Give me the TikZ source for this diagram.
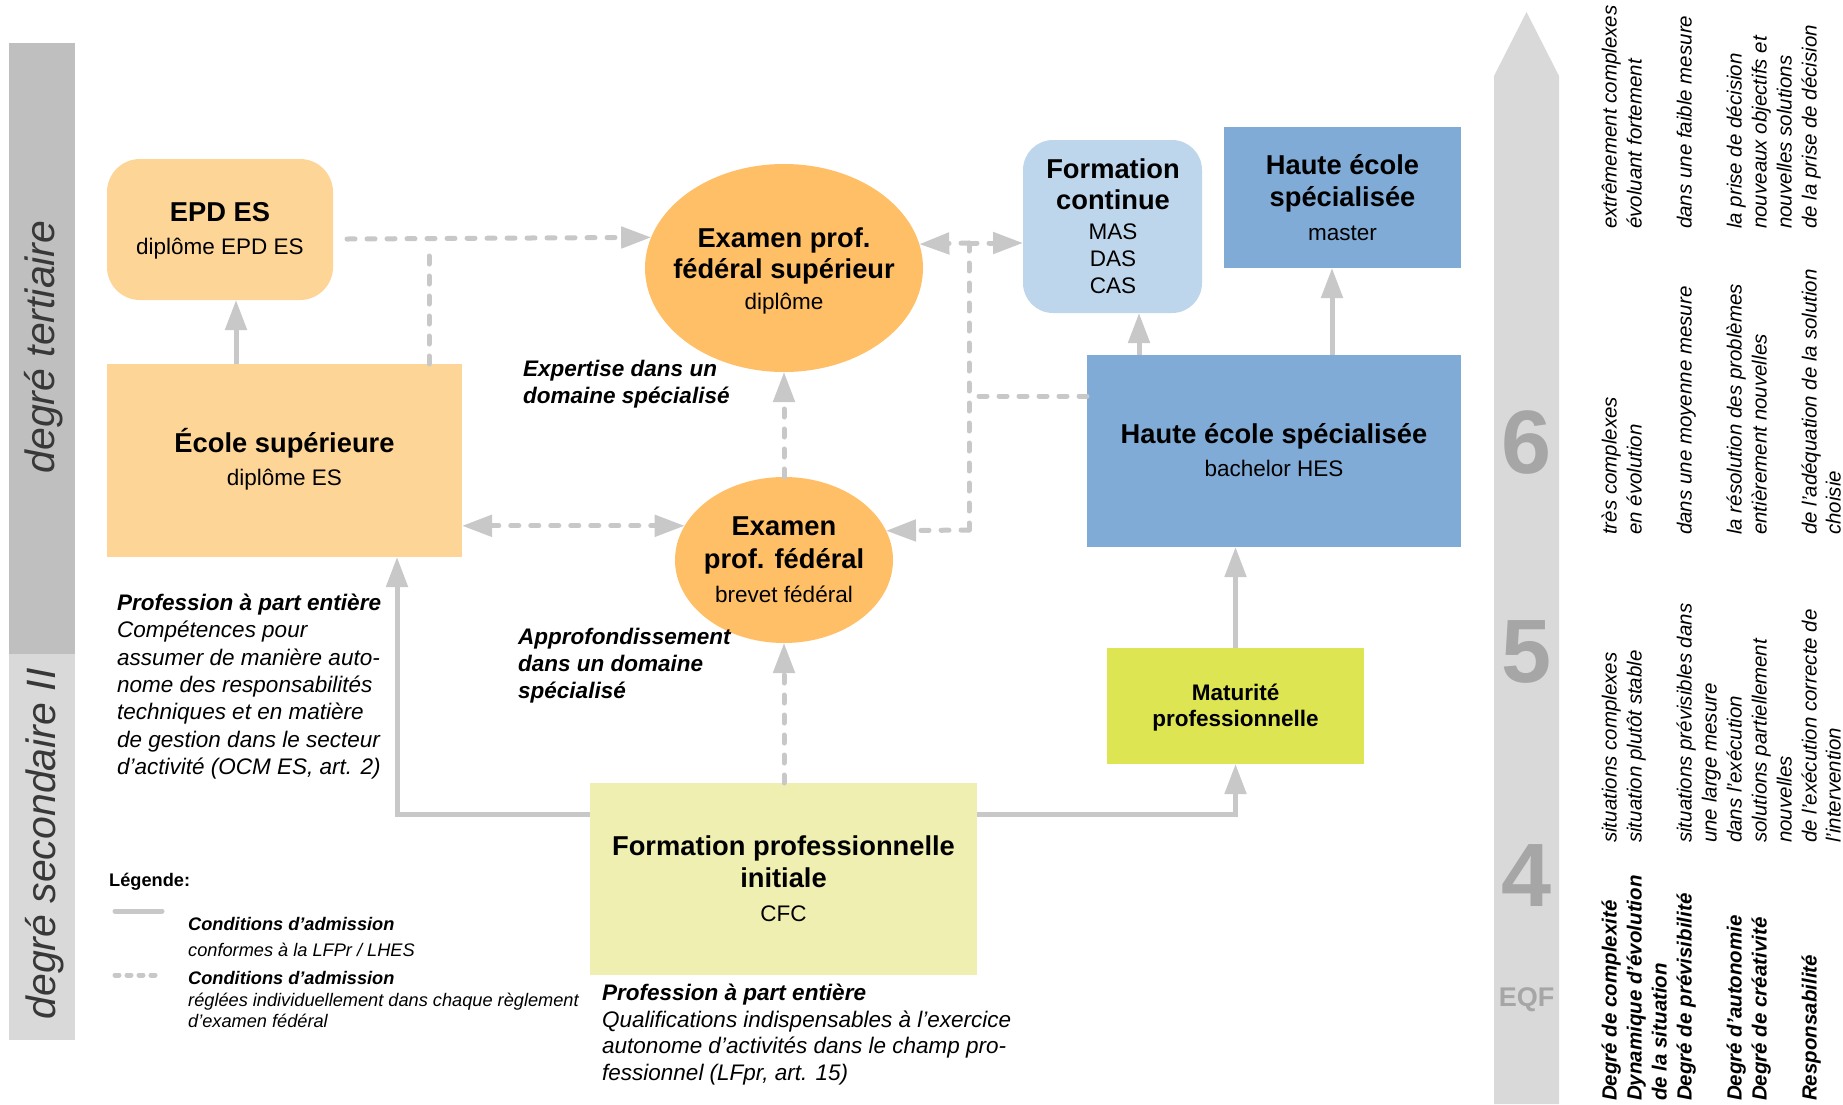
\documentclass[tikz,border=0pt]{standalone}
\usepackage{fontspec}
\setmainfont{Liberation Sans}
\usetikzlibrary{arrows.meta,shapes.geometric}
\definecolor{conn}{HTML}{C8C8C8}
\definecolor{bandD}{HTML}{BFBFBF}
\definecolor{bandL}{HTML}{D9D9D9}
\definecolor{eqfc}{HTML}{D9D9D9}
\definecolor{numc}{HTML}{A6A6A6}
\definecolor{lorange}{HTML}{FDD597}
\definecolor{orng}{HTML}{FFBF66}
\definecolor{lblue}{HTML}{BED6EB}
\definecolor{mblue}{HTML}{80ABD6}
\definecolor{ygreen}{HTML}{DDE553}
\definecolor{lyellow}{HTML}{EFEFB1}
\definecolor{bandtxt}{HTML}{383838}
\tikzset{
  boxs/.style={inner sep=0pt, outer sep=0pt, draw=none},
  ttl/.style={inner sep=0pt, anchor=mid, font=\fontsize{27.3}{32}\selectfont\bfseries},
  sub/.style={inner sep=0pt, anchor=mid, font=\fontsize{22.5}{27}\selectfont},
  matf/.style={inner sep=0pt, anchor=mid, font=\fontsize{22.5}{27}\selectfont\bfseries},
  ann/.style={inner sep=0pt, anchor=mid west, font=\fontsize{22.5}{27}\selectfont\itshape},
  annb/.style={inner sep=0pt, anchor=mid west, font=\fontsize{22.5}{27}\selectfont\bfseries\itshape},
  leg/.style={inner sep=0pt, anchor=mid west, font=\fontsize{18.2}{22}\selectfont\itshape},
  legb/.style={inner sep=0pt, anchor=mid west, font=\fontsize{18.2}{22}\selectfont\bfseries\itshape},
  rot/.style={inner sep=0pt, rotate=90, anchor=mid west, font=\fontsize{20.5}{25}\selectfont\itshape},
  rotb/.style={inner sep=0pt, rotate=90, anchor=mid west, font=\fontsize{20.5}{25}\selectfont\bfseries\itshape},
  bandtext/.style={inner sep=0pt, rotate=90, text=bandtxt, font=\fontsize{41}{41}\selectfont\itshape},
  numtext/.style={inner sep=0pt, text=numc, font=\fontsize{90}{90}\selectfont\bfseries},
  solc/.style={draw=conn, line width=5pt},
  dashc/.style={draw=conn, line width=5pt, line cap=round, dash pattern=on 8pt off 12pt},
  arr/.style={-{Triangle[width=21pt,length=30pt]}},
  darr/.style={{Triangle[width=21pt,length=30pt]}-{Triangle[width=21pt,length=30pt]}},
}
\begin{document}
\begin{tikzpicture}[x=1pt,y=-1pt]
\fill[white] (0,0) rectangle (1843,1104);
\useasboundingbox (0,0) rectangle (1843,1104);

% left bands
\node[boxs, fill=bandD, minimum width=66pt, minimum height=611pt] (bandT) at (42,348.5) {};
\node[boxs, fill=bandL, minimum width=66pt, minimum height=386pt] (bandS) at (42,847) {};
\node[bandtext] (tT) at (44,347) {degré tertiaire};
\node[bandtext] (tS) at (45,844) {degré secondaire II};

% EQF arrow
\fill[eqfc] (1494,1104) -- (1494,76) -- (1526.5,12) -- (1559,76) -- (1559,1104) -- cycle;
\node[numtext] (n6) at (1526.5,443) {6};
\node[numtext] (n5) at (1526.5,652) {5};
\node[numtext] (n4) at (1526.5,876) {4};
\node[inner sep=0pt, text=numc, font=\fontsize{27}{27}\selectfont\bfseries] (eqf) at (1526.5,1000) {EQF};

% boxes
\node[boxs, fill=lorange, rounded corners=33pt, minimum width=226pt, minimum height=141pt] (epd) at (220,229.5) {};
\node[boxs, fill=lorange, minimum width=355pt, minimum height=193pt] (es) at (284.5,460.5) {};
\node[boxs, ellipse, fill=orng, minimum width=278pt, minimum height=208pt] (exs) at (784,268) {};
\node[boxs, ellipse, fill=orng, minimum width=218pt, minimum height=166pt] (exf) at (784,560) {};
\node[boxs, fill=lblue, rounded corners=30pt, minimum width=179pt, minimum height=173pt] (fc) at (1112.5,226.5) {};
\node[boxs, fill=mblue, minimum width=237pt, minimum height=141pt] (hesm) at (1342.5,197.5) {};
\node[boxs, fill=mblue, minimum width=374pt, minimum height=192pt] (hesb) at (1274,451) {};
\node[boxs, fill=ygreen, minimum width=257pt, minimum height=116pt] (mat) at (1235.5,706) {};
\node[boxs, fill=lyellow, minimum width=387pt, minimum height=192pt] (fpi) at (783.5,879) {};

% box texts
\node[ttl] (epdT) at (220,219) {EPD ES};
\node[sub] (epdS) at (220,252) {diplôme EPD ES};
\node[ttl] (esT) at (284.5,450) {École supérieure};
\node[sub] (esS) at (284.5,483) {diplôme ES};
\node[ttl] (exsT1) at (784,245) {Examen prof.};
\node[ttl] (exsT2) at (784,276) {fédéral supérieur};
\node[sub] (exsS) at (784,307) {diplôme};
\node[ttl] (exfT1) at (784,533) {Examen};
\node[ttl] (exfT2) at (784,566) {prof. fédéral};
\node[sub] (exfS) at (784,600) {brevet fédéral};
\node[ttl] (fcT1) at (1113,176) {Formation};
\node[ttl] (fcT2) at (1113,207) {continue};
\node[sub] (fcS1) at (1113,237) {MAS};
\node[sub] (fcS2) at (1113,264) {DAS};
\node[sub] (fcS3) at (1113,291) {CAS};
\node[ttl] (hmT1) at (1342.5,172) {Haute école};
\node[ttl] (hmT2) at (1342.5,204) {spécialisée};
\node[sub] (hmS) at (1342.5,238) {master};
\node[ttl] (hbT) at (1274,441) {Haute école spécialisée};
\node[sub] (hbS) at (1274,474) {bachelor HES};
\node[matf] (matT1) at (1235.5,698) {Maturité};
\node[matf] (matT2) at (1235.5,724) {professionnelle};
\node[ttl] (fpT1) at (783.5,853) {Formation professionnelle};
\node[ttl] (fpT2) at (783.5,885) {initiale};
\node[sub] (fpS) at (783.5,919) {CFC};

% annotations
\node[annb] (a1) at (117,608) {Profession à part entière};
\node[ann] (a2) at (117,635.3) {Compétences pour};
\node[ann] (a3) at (117,662.6) {assumer de manière auto-};
\node[ann] (a4) at (117,689.9) {nome des responsabilités};
\node[ann] (a5) at (117,717.2) {techniques et en matière};
\node[ann] (a6) at (117,744.5) {de gestion dans le secteur};
\node[ann] (a7) at (117,771.8) {d’activité (OCM ES, art. 2)};
\node[annb] (e1) at (523,374) {Expertise dans un};
\node[annb] (e2) at (523,401) {domaine spécialisé};
\node[annb] (p1) at (518,642) {Approfondissement};
\node[annb] (p2) at (518,669) {dans un domaine};
\node[annb] (p3) at (518,696) {spécialisé};
\node[annb] (b1) at (602,998) {Profession à part entière};
\node[ann] (b2) at (602,1024.5) {Qualifications indispensables à l’exercice};
\node[ann] (b3) at (602,1051) {autonome d’activités dans le champ pro-};
\node[ann] (b4) at (602,1077.5) {fessionnel (LFpr, art. 15)};

% legend
\node[inner sep=0pt, anchor=mid west, font=\fontsize{18.2}{22}\selectfont\bfseries] (legT) at (109,884) {Légende:};
\coordinate (ls1) at (115,911);
\coordinate (ls2) at (162,911);
\draw[solc, line cap=round] (ls1) -- (ls2);
\coordinate (ld1) at (115,975);
\coordinate (ld2) at (162,975);
\draw[dashc, dash pattern=on 4pt off 8pt] (ld1) -- (ld2);
\node[legb] (l1) at (188,928) {Conditions d’admission};
\node[leg] (l2) at (188,954) {conformes à la LFPr / LHES};
\node[legb] (l3) at (188,982) {Conditions d’admission};
\node[leg] (l4) at (188,1004) {réglées individuellement dans chaque règlement};
\node[leg] (l5) at (188,1025) {d’examen fédéral};

% connectors
\coordinate (c1) at (236,0);
\draw[solc, arr] (es.north -| c1) -- (epd.south -| c1);
\coordinate (d0) at (347,239);
\coordinate (j1) at (429,239);
\coordinate (j1b) at (429,252);
\draw[dashc, arr] (d0) -- (exs.167.8);
\draw[dashc] (es.north -| j1) -- (j1b);
\draw[dashc, darr] (es.east |- exf.161.7) -- (exf.161.7);
\draw[dashc, arr] (exf.north) -- (exs.south);
\draw[dashc, arr] (exf.south |- fpi.north) -- (exf.south);
\coordinate (j7) at (397,814);
\draw[solc, arr] (fpi.west |- j7) -- (j7) -- (es.south -| j7);
\coordinate (j8) at (1235.5,814);
\draw[solc, arr] (fpi.east |- j8) -- (j8) -- (mat.south);
\draw[solc, arr] (mat.north) -- (mat.north |- hesb.south);
\coordinate (c10) at (1332,0);
\draw[solc, arr] (hesb.north -| c10) -- (hesm.south -| c10);
\coordinate (c11) at (1139,0);
\draw[solc, arr] (hesb.north -| c11) -- (fc.south -| c11);
\coordinate (jt) at (969,243);
\coordinate (jm) at (969,396);
\coordinate (jb) at (969,530);
\draw[dashc] (hesb.west |- jm) -- (jm);
\draw[dashc] (jt) -- (jb);
\draw[dashc, arr] (jt) -- (exs.10.5);
\draw[dashc, arr] (jt) -- (fc.west |- jt);
\draw[dashc, arr] (jb) -- (exf.16.5);

% right columns, group 1
\node[rot] (g1a) at (1614,229) {extrêmement complexes};
\node[rot] (g1b) at (1639,229) {évoluant fortement};
\node[rot] (g1c) at (1689,229) {dans une faible mesure};
\node[rot] (g1d) at (1739,229) {la prise de décision};
\node[rot] (g1e) at (1764,229) {nouveaux objectifs et};
\node[rot] (g1f) at (1789,229) {nouvelles solutions};
\node[rot] (g1g) at (1814,229) {de la prise de décision};
% group 2
\node[rot] (g2a) at (1614,535) {très complexes};
\node[rot] (g2b) at (1639,535) {en évolution};
\node[rot] (g2c) at (1689,535) {dans une moyenne mesure};
\node[rot] (g2d) at (1739,535) {la résolution des problèmes};
\node[rot] (g2e) at (1764,535) {entièrement nouvelles};
\node[rot] (g2f) at (1814,535) {de l’adéquation de la solution};
\node[rot] (g2g) at (1838,535) {choisie};
% group 3
\node[rot] (g3a) at (1614,843) {situations complexes};
\node[rot] (g3b) at (1639,843) {situation plutôt stable};
\node[rot] (g3c) at (1689,843) {situations prévisibles dans};
\node[rot] (g3d) at (1714,843) {une large mesure};
\node[rot] (g3e) at (1739,843) {dans l’exécution};
\node[rot] (g3f) at (1764,843) {solutions partiellement};
\node[rot] (g3g) at (1789,843) {nouvelles};
\node[rot] (g3h) at (1814,843) {de l’exécution correcte de};
\node[rot] (g3i) at (1838,843) {l’intervention};
% labels
\node[rotb] (ra) at (1614,1101) {Degré de complexité};
\node[rotb] (rb) at (1639,1101) {Dynamique d’évolution};
\node[rotb] (rc) at (1664,1101) {de la situation};
\node[rotb] (rd) at (1689,1101) {Degré de prévisibilité};
\node[rotb] (re) at (1739,1101) {Degré d’autonomie};
\node[rotb] (rf) at (1764,1101) {Degré de créativité};
\node[rotb] (rg) at (1814,1101) {Responsabilité};
\end{tikzpicture}
\end{document}
